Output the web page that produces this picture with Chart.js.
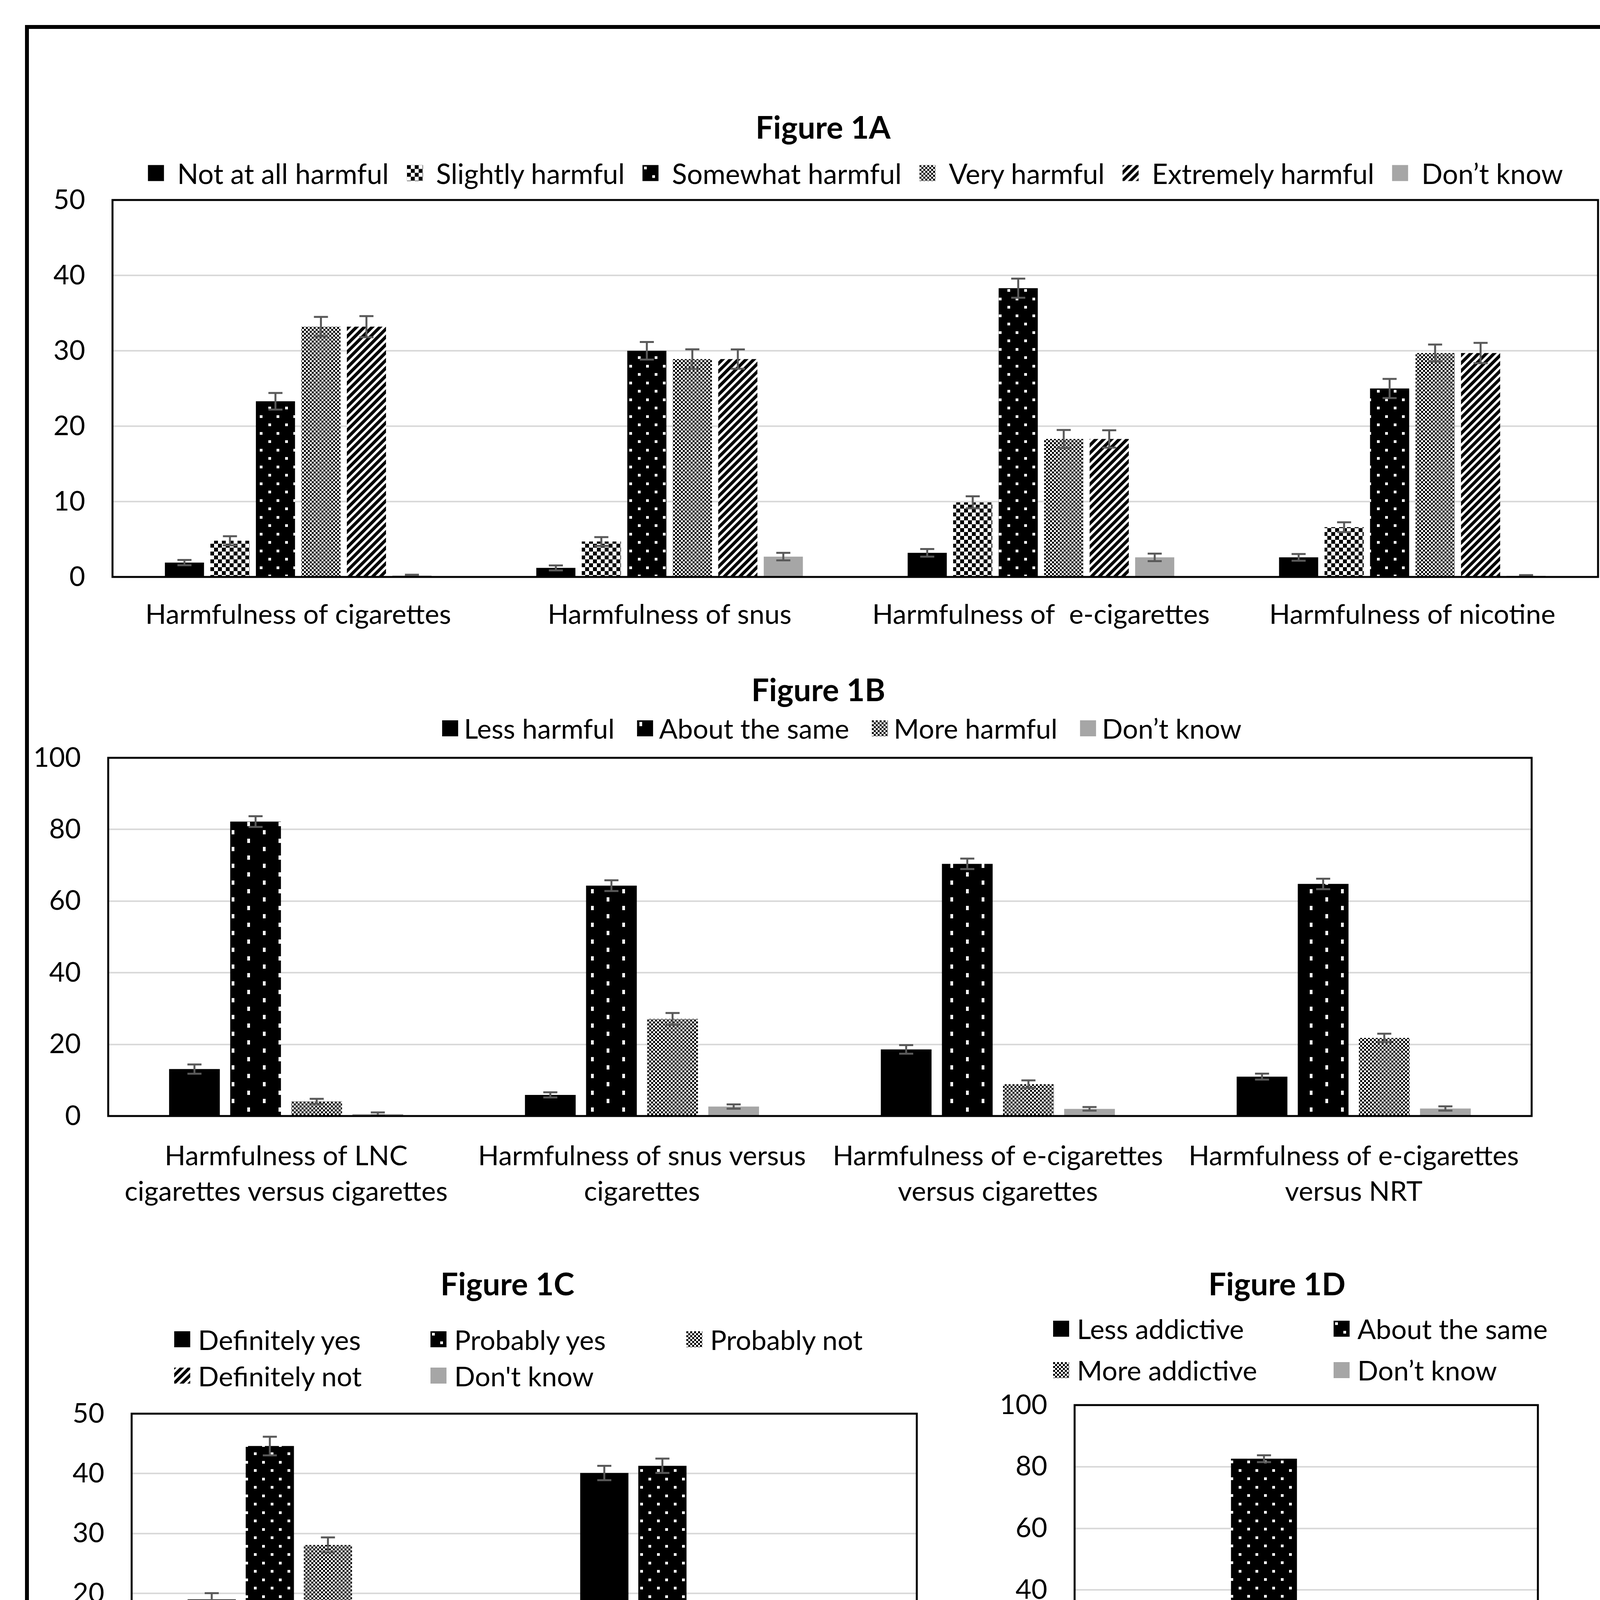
<!DOCTYPE html>
<html>
<head>
<meta charset="utf-8">
<script src="https://cdn.jsdelivr.net/npm/chart.js@4.4.1/dist/chart.umd.min.js"></script>
<style>
  html, body { margin: 0; padding: 0; background: #fff; }
  body { width: 4234px; height: 5017px; position: relative; overflow: hidden; font-family: Lato, "Open Sans", sans-serif; color: #000; }
  .frame { position: absolute; left: 64px; top: 64px; width: 4073px; height: 4881px; border: 10px solid #000; }
  .title { position: absolute; font-weight: bold; font-size: 80px; transform: translate(-50%, -50%); white-space: nowrap; }
  .legend { position: absolute; display: flex; align-items: center; font-size: 70px; white-space: nowrap; transform: translate(-50%, -50%); }
  .grid { position: absolute; display: grid; align-items: center; font-size: 70px; white-space: nowrap; }
  .item { display: flex; align-items: center; }
  .sw { display: inline-block; width: 41px; height: 41px; margin-right: 20px; flex: none; }
  .note { position: absolute; left: 160px; top: 4827px; transform: translateY(-50%); font-size: 76px; white-space: nowrap; }
  canvas { position: absolute; }
</style>
</head>
<body>
<div class="frame"></div>

<div class="title" style="left:2107px; top:324px;">Figure 1A</div>
<div class="legend" id="legA" style="left:2190px; top:443px; gap:46px; font-size:71px;"></div>
<canvas id="chartA"></canvas>

<div class="title" style="left:2095px; top:1764px;">Figure 1B</div>
<div class="legend" id="legB" style="left:2155px; top:1864px; gap:58px;"></div>
<canvas id="chartB"></canvas>

<div class="title" style="left:1299px; top:3285px;">Figure 1C</div>
<div class="grid" id="legC" style="left:446px; top:3382px; grid-template-columns:656px 655px auto; grid-auto-rows:93px;"></div>
<canvas id="chartC"></canvas>

<div class="title" style="left:3269px; top:3285px;">Figure 1D</div>
<div class="grid" id="legD" style="left:2696px; top:3348px; grid-template-columns:718px auto; grid-auto-rows:106px;"></div>
<canvas id="chartD"></canvas>

<div class="note">LNC: low nicotine cigarettes; NNC: normal nicotine cigarettes; NRT: nicotine replacement therapy</div>

<script>
// ---- Figure 1A ----
const labelsA = ['Harmfulness of cigarettes', 'Harmfulness of snus', 'Harmfulness of  e-cigarettes', 'Harmfulness of nicotine'];
const seriesA = ['Not at all harmful', 'Slightly harmful', 'Somewhat harmful', 'Very harmful', 'Extremely harmful', 'Don’t know'];
const valuesA = [
  [1.9, 1.2, 3.2, 2.6],
  [4.8, 4.7, 9.9, 6.6],
  [23.3, 30.0, 38.3, 25.0],
  [33.2, 28.9, 18.3, 29.7],
  [33.2, 28.9, 18.3, 29.7],
  [0.2, 2.7, 2.6, 0.15]
];
const errorsA = [
  [0.35, 0.33, 0.5, 0.45],
  [0.6, 0.58, 0.8, 0.65],
  [1.1, 1.17, 1.27, 1.27],
  [1.3, 1.3, 1.2, 1.13],
  [1.4, 1.28, 1.15, 1.35],
  [0.1, 0.5, 0.5, 0.1]
];

// ---- Figure 1B ----
const labelsB = [
  ['Harmfulness of LNC', 'cigarettes versus cigarettes'],
  ['Harmfulness of snus versus', 'cigarettes'],
  ['Harmfulness of e-cigarettes', 'versus cigarettes'],
  ['Harmfulness of e-cigarettes', 'versus NRT']
];
const seriesB = ['Less harmful', 'About the same', 'More harmful', 'Don’t know'];
const valuesB = [
  [13.1, 5.9, 18.6, 11.0],
  [82.2, 64.3, 70.4, 64.8],
  [4.1, 27.1, 8.9, 21.8],
  [0.55, 2.65, 2.0, 2.1]
];
const errorsB = [
  [1.3, 0.73, 1.2, 0.83],
  [1.5, 1.5, 1.46, 1.46],
  [0.7, 1.67, 1.04, 1.18],
  [0.45, 0.6, 0.5, 0.6]
];

// ---- Figure 1C ----
const labelsC = [
  ['Nicotine in cigarettes causes', 'most of the cancer caused by', 'smoking'],
  ['Nicotine causes people to use', 'tobacco']
];
const seriesC = ['Definitely yes', 'Probably yes', 'Probably not', 'Definitely not', "Don't know"];
const valuesC = [
  [19.0, 40.1],
  [44.6, 41.3],
  [28.1, 12.5],
  [6.0, 4.7],
  [1.6, 0.5]
];
const errorsC = [
  [1.04, 1.2],
  [1.56, 1.2],
  [1.25, 0.94],
  [0.7, 0.66],
  [0.5, 0.4]
];

// ---- Figure 1D ----
const labelsD = [['Addictiveness of LNC versus NNC', 'cigarettes']];
const seriesD = ['Less addictive', 'About the same', 'More addictive', 'Don’t know'];
const valuesD = [[13.2], [82.6], [3.5], [0.3]];
const errorsD = [[1.0], [1.1], [0.5], [0.4]];

// fill styles per series
const kindsA = ['black', 'checker', 'dots', 'fine', 'diag', 'gray'];
const kindsB = ['black', 'dotsTall', 'fine', 'gray'];
const kindsC = ['black', 'dots', 'fine', 'diag', 'gray'];
const kindsD = ['black', 'dots', 'fine', 'gray'];

function makeTile(kind) {
  const c = document.createElement('canvas');
  const g = c.getContext('2d');
  if (kind === 'checker') {
    c.width = c.height = 20;
    g.fillStyle = '#fff'; g.fillRect(0, 0, 20, 20);
    g.fillStyle = '#000'; g.fillRect(0, 0, 10, 10); g.fillRect(10, 10, 10, 10);
  } else if (kind === 'fine') {
    c.width = c.height = 10;
    g.fillStyle = '#fff'; g.fillRect(0, 0, 10, 10);
    g.fillStyle = '#000'; g.fillRect(0, 0, 5, 5); g.fillRect(5, 5, 5, 5);
  } else if (kind === 'dots') {
    c.width = 43; c.height = 43;
    g.fillStyle = '#000'; g.fillRect(0, 0, 43, 43);
    g.fillStyle = '#fff'; g.fillRect(4, 4, 7, 7); g.fillRect(25, 26, 7, 7);
  } else if (kind === 'dotsTall') {
    c.width = 80; c.height = 43;
    g.fillStyle = '#000'; g.fillRect(0, 0, 80, 43);
    g.fillStyle = '#fff'; g.fillRect(6, 4, 7, 11); g.fillRect(46, 26, 7, 11);
  } else if (kind === 'diag') {
    const s = 20;
    c.width = c.height = s;
    g.fillStyle = '#fff'; g.fillRect(0, 0, s, s);
    g.strokeStyle = '#000'; g.lineWidth = 8;
    g.beginPath();
    g.moveTo(-2, s + 2); g.lineTo(s + 2, -2);
    g.moveTo(-s, s); g.lineTo(s, -s);
    g.moveTo(0, 2 * s); g.lineTo(2 * s, 0);
    g.stroke();
  }
  return c;
}

function fillFor(kind, ctx) {
  if (kind === 'black') return '#000';
  if (kind === 'gray') return '#a6a6a6';
  return ctx.createPattern(makeTile(kind), 'repeat');
}

function swatch(kind, gap) {
  const sw = document.createElement('span');
  sw.className = 'sw';
  sw.style.marginRight = gap + 'px';
  if (kind === 'black') sw.style.background = '#000';
  else if (kind === 'gray') sw.style.background = '#a6a6a6';
  else sw.style.backgroundImage = 'url(' + makeTile(kind).toDataURL() + ')';
  return sw;
}

function buildLegend(id, names, kinds, gap) {
  const el = document.getElementById(id);
  names.forEach((n, i) => {
    const it = document.createElement('div');
    it.className = 'item';
    it.appendChild(swatch(kinds[i], gap));
    it.appendChild(document.createTextNode(n));
    el.appendChild(it);
  });
}

const errorBars = {
  id: 'errorBars',
  afterDatasetsDraw(chart) {
    const g = chart.ctx, y = chart.scales.y;
    g.save();
    g.strokeStyle = '#595959';
    g.lineWidth = 5;
    chart.data.datasets.forEach((ds, i) => {
      chart.getDatasetMeta(i).data.forEach((bar, j) => {
        const v = ds.data[j], e = ds.errors[j];
        const y1 = y.getPixelForValue(v + e), y2 = y.getPixelForValue(Math.max(0, v - e));
        const cap = 18;
        g.beginPath();
        g.moveTo(bar.x, y1); g.lineTo(bar.x, y2);
        g.moveTo(bar.x - cap, y1); g.lineTo(bar.x + cap, y1);
        g.moveTo(bar.x - cap, y2); g.lineTo(bar.x + cap, y2);
        g.stroke();
      });
    });
    g.restore();
  }
};

const frameBox = {
  id: 'frameBox',
  afterDraw(chart) {
    const a = chart.chartArea, g = chart.ctx;
    g.save();
    g.strokeStyle = '#000';
    g.lineWidth = 5;
    g.strokeRect(a.left, a.top, a.right - a.left, a.bottom - a.top);
    g.restore();
  }
};

// y axis width, top and right room kept around the plot box
const Y_W = 250, PAD_T = 120, PAD_R = 80;

function drawFigure(id, plot, xH, xPad, labels, names, kinds, values, errors, yMax, yStep, catPct, barPct) {
  const cv = document.getElementById(id);
  const left = plot.l - Y_W, top = plot.t - PAD_T;
  const w = plot.r - left + PAD_R, h = plot.b - top + xH;
  cv.style.left = left + 'px'; cv.style.top = top + 'px';
  cv.width = w; cv.height = h;
  cv.style.width = w + 'px'; cv.style.height = h + 'px';
  const ctx = cv.getContext('2d');
  new Chart(ctx, {
    type: 'bar',
    data: {
      labels: labels,
      datasets: names.map((n, i) => ({
        label: n,
        data: values[i],
        errors: errors[i],
        backgroundColor: fillFor(kinds[i], ctx),
        borderWidth: 0,
        categoryPercentage: catPct,
        barPercentage: barPct
      }))
    },
    options: {
      responsive: false,
      animation: false,
      devicePixelRatio: 1,
      layout: { padding: { top: PAD_T, right: PAD_R, left: 0, bottom: 0 } },
      plugins: { legend: { display: false }, title: { display: false }, tooltip: { enabled: false } },
      scales: {
        x: {
          grid: { display: false, drawTicks: false },
          border: { display: false },
          ticks: { font: { family: 'Lato', size: 70, lineHeight: 1.3 }, color: '#000', padding: xPad, maxRotation: 0, minRotation: 0, autoSkip: false },
          afterFit: (s) => { s.height = xH; }
        },
        y: {
          min: 0, max: yMax,
          grid: { color: '#d9d9d9', lineWidth: 4, drawTicks: false },
          border: { display: false },
          ticks: { stepSize: yStep, font: { family: 'Lato', size: 70 }, color: '#000', padding: 70 },
          afterFit: (s) => { s.width = Y_W; }
        }
      }
    },
    plugins: [errorBars, frameBox]
  });
}

buildLegend('legA', seriesA, kindsA, 34);
buildLegend('legB', seriesB, kindsB, 15);
buildLegend('legC', seriesC, kindsC, 20);
buildLegend('legD', seriesD, kindsD, 20);

drawFigure('chartA', { l: 288, t: 512, r: 4091, b: 1477 }, 200, 52, labelsA, seriesA, kindsA, valuesA, errorsA, 50, 10, 0.735, 0.86);
drawFigure('chartB', { l: 277, t: 1940, r: 3921, b: 2857 }, 260, 58, labelsB, seriesB, kindsB, valuesB, errorsB, 100, 20, 0.687, 0.83);
drawFigure('chartC', { l: 337, t: 3619, r: 2347, b: 4386 }, 350, 60, labelsC, seriesC, kindsC, valuesC, errorsC, 50, 10, 0.74, 0.83);
drawFigure('chartD', { l: 2751, t: 3597, r: 3937, b: 4386 }, 270, 60, labelsD, seriesD, kindsD, valuesD, errorsD, 100, 20, 0.73, 0.78);
</script>
</body>
</html>
